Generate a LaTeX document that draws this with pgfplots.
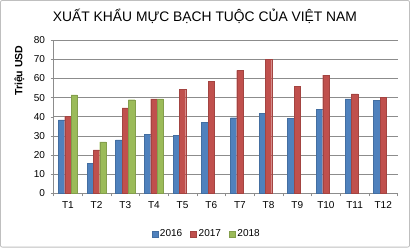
\documentclass[border=0pt]{standalone}
\usepackage{pgfplots}
\pgfplotsset{compat=1.18}
\usepackage{fontspec}
\setmainfont{Liberation Sans}
\definecolor{c16}{HTML}{4F81BD}
\definecolor{c17}{HTML}{C0504D}
\definecolor{c18}{HTML}{9BBB59}
\definecolor{gridc}{HTML}{8C8C8C}
\definecolor{framec}{HTML}{BFBFBF}
\begin{document}
\begin{tikzpicture}
\draw[framec, line width=0.8pt, rounded corners=2pt] (1pt,1pt) rectangle (409pt,247pt);
\node[font=\fontsize{13.8}{16}\selectfont] at (205pt,231pt) {XUẤT KHẨU MỰC BẠCH TUỘC CỦA VIỆT NAM};
\node[font=\fontsize{10.5}{12}\selectfont\bfseries, rotate=90] at (20pt,177pt) {Triệu USD};
\begin{axis}[
  at={(54pt,54.7pt)}, anchor=south west,
  scale only axis, width=343pt, height=152.6pt,
  ybar=0pt, bar width=6.35pt,
  xmin=0.5, xmax=12.5, ymin=0, ymax=80,
  xtick={1,...,12},
  xticklabels={T1,T2,T3,T4,T5,T6,T7,T8,T9,T10,T11,T12},
  minor xtick={0.5,1.5,...,12.5},
  major x tick style={draw=none},
  ytick={0,10,...,80},
  tick align=outside,
  major tick length=3pt, minor tick length=3pt,
  axis x line*=bottom, axis y line*=left,
  axis line style={gridc},
  every tick/.style={gridc},
  ymajorgrids, grid style={gridc, line width=0.5pt},
  tick label style={font=\fontsize{10}{12}\selectfont},
  /pgf/number format/assume math mode=true,
  xticklabel style={yshift=-2pt},
  yticklabel style={xshift=-2pt},
  legend columns=3,
  legend style={at={(0.445,-0.21)}, anchor=north, draw=none, font=\fontsize{10}{12}\selectfont,
    /tikz/every even column/.append style={column sep=6pt}},
  legend image code/.code={\fill[#1] (0pt,-3pt) rectangle (6pt,3pt);},
  legend cell align=left,
]
\addplot[fill=c16, draw=c16!85!black] coordinates {(1,38.4) (2,15.7) (3,27.9) (4,30.9) (5,30.4) (6,37.2) (7,39.5) (8,41.6) (9,39.1) (10,44.0) (11,49.3) (12,48.4)};
\addplot[fill=c17, draw=c17!85!black] coordinates {(1,40.2) (2,22.7) (3,44.7) (4,49.3) (5,54.5) (6,58.5) (7,64.3) (8,69.9) (9,55.9) (10,61.7) (11,51.9) (12,50.3)};
\addplot[fill=c18, draw=c18!85!black] coordinates {(1,51.5) (2,26.9) (3,48.9) (4,49.3)};
\legend{2016,2017,2018}
\end{axis}
\end{tikzpicture}
\end{document}
